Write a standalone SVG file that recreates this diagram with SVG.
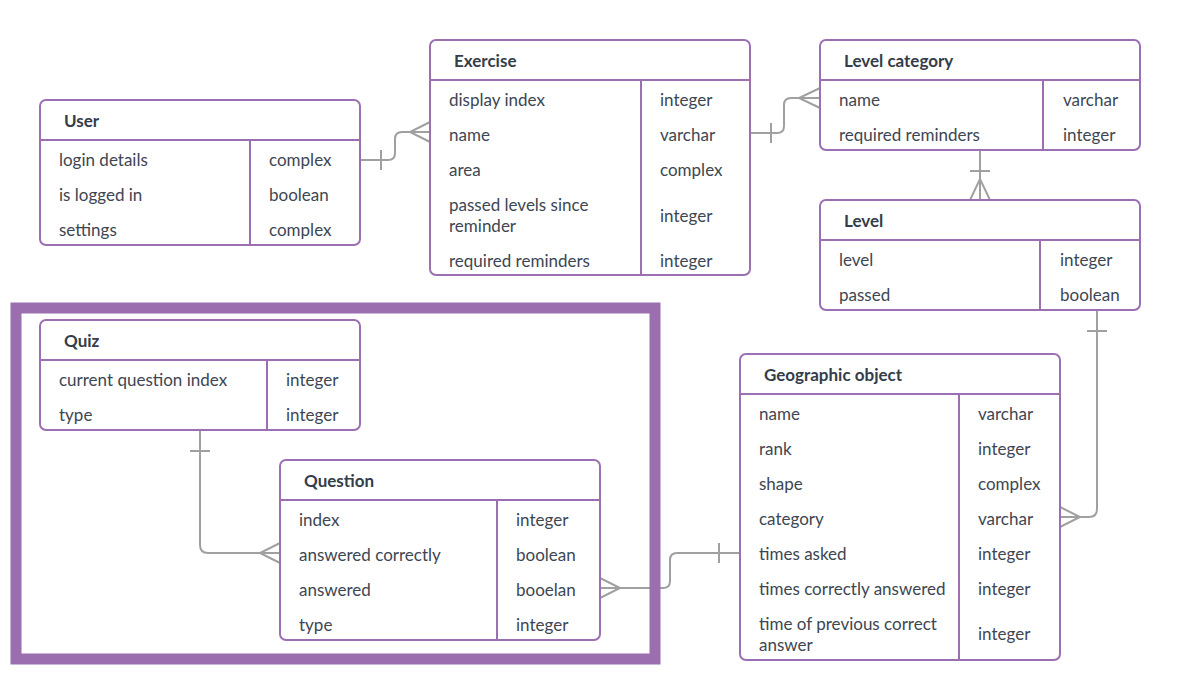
<svg xmlns="http://www.w3.org/2000/svg" width="1180" height="700" viewBox="0 0 1180 700">
<style>
.box{fill:#fff;stroke:#9c6fb2;stroke-width:2}
.ln{stroke:#9c6fb2;stroke-width:2;fill:none}
.t{font-family:Lato,"Noto Sans",sans-serif;font-size:17px;fill:#3d4652;dominant-baseline:central}
.h{font-family:Lato,"Noto Sans",sans-serif;font-size:17px;font-weight:bold;fill:#343d49;dominant-baseline:central}
.c{stroke:#a0a0a0;stroke-width:2;fill:none}
</style>
<rect width="1180" height="700" fill="#fff"/>
<g id="connectors">
<path class="c" d="M360,160 H388 Q395,160 395,153 V139 Q395,132 402,132 H430 M430,122 L410,132 L430,142 M381,150 V170"/>
<path class="c" d="M750,133 H777 Q784,133 784,126 V105 Q784,98 791,98 H820 M820,88 L799,98 L820,108 M771,123 V143"/>
<path class="c" d="M980,150 V200 M970,171 H990 M970,200 L980,179 L990,200"/>
<path class="c" d="M1097,310 V509 Q1097,517 1089,517 H1060 M1087,331 H1107 M1060,507 L1080,517 L1060,527"/>
<path class="c" d="M200,430 V545 Q200,553 208,553 H280 M190,451 H210 M280,543 L260,553 L280,563"/>
<path class="c" d="M600,588 H663 Q670,588 670,581 V560 Q670,553 677,553 H740 M719,543 V563 M600,578 L620,588 L600,598"/>
</g>
<rect x="16" y="308" width="639" height="351" fill="none" stroke="#9a6eaf" stroke-width="11"/>
<g id="user">
<rect class="box" x="40" y="100" width="320" height="145" rx="6"/>
<path class="ln" d="M40,140 H360 M250,140 V245"/>
<text class="h" x="64" y="120">User</text>
<text class="t" x="59" y="159">login details</text><text class="t" x="269" y="159">complex</text>
<text class="t" x="59" y="194">is logged in</text><text class="t" x="269" y="194">boolean</text>
<text class="t" x="59" y="229">settings</text><text class="t" x="269" y="229">complex</text>
</g>
<g id="exercise">
<rect class="box" x="430" y="40" width="320" height="235" rx="6"/>
<path class="ln" d="M430,80 H750 M641,80 V275"/>
<text class="h" x="454" y="60">Exercise</text>
<text class="t" x="449" y="99">display index</text><text class="t" x="660" y="99">integer</text>
<text class="t" x="449" y="134">name</text><text class="t" x="660" y="134">varchar</text>
<text class="t" x="449" y="169">area</text><text class="t" x="660" y="169">complex</text>
<text class="t" x="449" y="204">passed levels since</text><text class="t" x="449" y="225">reminder</text><text class="t" x="660" y="215">integer</text>
<text class="t" x="449" y="260">required reminders</text><text class="t" x="660" y="260">integer</text>
</g>
<g id="level-category">
<rect class="box" x="820" y="40" width="320" height="110" rx="6"/>
<path class="ln" d="M820,80 H1140 M1043,80 V150"/>
<text class="h" x="844" y="60">Level category</text>
<text class="t" x="839" y="99">name</text><text class="t" x="1063" y="99">varchar</text>
<text class="t" x="839" y="134">required reminders</text><text class="t" x="1063" y="134">integer</text>
</g>
<g id="level">
<rect class="box" x="820" y="200" width="320" height="110" rx="6"/>
<path class="ln" d="M820,240 H1140 M1040,240 V310"/>
<text class="h" x="844" y="220">Level</text>
<text class="t" x="839" y="259">level</text><text class="t" x="1060" y="259">integer</text>
<text class="t" x="839" y="294">passed</text><text class="t" x="1060" y="294">boolean</text>
</g>
<g id="quiz">
<rect class="box" x="40" y="320" width="320" height="110" rx="6"/>
<path class="ln" d="M40,360 H360 M267,360 V430"/>
<text class="h" x="64" y="340">Quiz</text>
<text class="t" x="59" y="379">current question index</text><text class="t" x="286" y="379">integer</text>
<text class="t" x="59" y="414">type</text><text class="t" x="286" y="414">integer</text>
</g>
<g id="question">
<rect class="box" x="280" y="460" width="320" height="180" rx="6"/>
<path class="ln" d="M280,500 H600 M497,500 V640"/>
<text class="h" x="304" y="480">Question</text>
<text class="t" x="299" y="519">index</text><text class="t" x="516" y="519">integer</text>
<text class="t" x="299" y="554">answered correctly</text><text class="t" x="516" y="554">boolean</text>
<text class="t" x="299" y="589">answered</text><text class="t" x="516" y="589">booelan</text>
<text class="t" x="299" y="624">type</text><text class="t" x="516" y="624">integer</text>
</g>
<g id="geographic-object">
<rect class="box" x="740" y="354" width="320" height="306" rx="6"/>
<path class="ln" d="M740,394 H1060 M959,394 V660"/>
<text class="h" x="764" y="374">Geographic object</text>
<text class="t" x="759" y="413">name</text><text class="t" x="978" y="413">varchar</text>
<text class="t" x="759" y="448">rank</text><text class="t" x="978" y="448">integer</text>
<text class="t" x="759" y="483">shape</text><text class="t" x="978" y="483">complex</text>
<text class="t" x="759" y="518">category</text><text class="t" x="978" y="518">varchar</text>
<text class="t" x="759" y="553">times asked</text><text class="t" x="978" y="553">integer</text>
<text class="t" x="759" y="588">times correctly answered</text><text class="t" x="978" y="588">integer</text>
<text class="t" x="759" y="623">time of previous correct</text><text class="t" x="759" y="644">answer</text><text class="t" x="978" y="633">integer</text>
</g>
</svg>
